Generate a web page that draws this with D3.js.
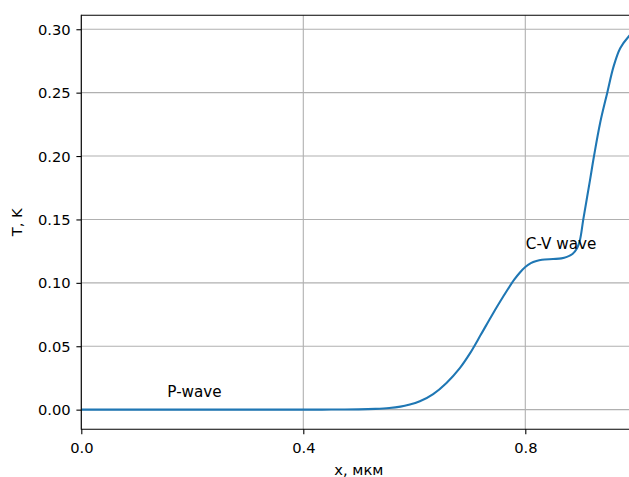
<!DOCTYPE html>
<html>
<head>
<meta charset="utf-8">
<script src="https://cdn.jsdelivr.net/npm/d3@7"></script>
<style>
  html, body { margin: 0; padding: 0; background: #fff; }
  svg { display: block; font-family: "DejaVu Sans", sans-serif; }
</style>
</head>
<body>
<svg id="chart" width="629" height="477"></svg>
<script>
// Temperature profile along x (мкм)
const xValues = [0, 0.1, 0.2, 0.3, 0.4, 0.45, 0.5, 0.53, 0.555, 0.575, 0.59, 0.61, 0.634, 0.658, 0.682, 0.70, 0.72, 0.74, 0.76, 0.78, 0.79, 0.80, 0.81, 0.82, 0.83, 0.85, 0.865, 0.875, 0.885, 0.8935, 0.8986, 0.9045, 0.9166, 0.9238, 0.935, 0.9477, 0.959, 0.971, 0.987, 1.0];
const tValues = [0, 0, 0, 0, 0, 0.00005, 0.0002, 0.0006, 0.0013, 0.0024, 0.0038, 0.0066, 0.0123, 0.0211, 0.0328, 0.0442, 0.0592, 0.0745, 0.089, 0.1025, 0.108, 0.1125, 0.1155, 0.1172, 0.1182, 0.1188, 0.1193, 0.1205, 0.1228, 0.1275, 0.134, 0.15, 0.181, 0.2, 0.2265, 0.25, 0.2705, 0.285, 0.2947, 0.300];

const xTicks = [0, 0.4, 0.8];
const yTicks = [0, 0.05, 0.10, 0.15, 0.20, 0.25, 0.30];

const annotations = [
  { text: "P-wave", x: 0.155, y: 0.0098 },
  { text: "C-V wave", x: 0.801, y: 0.1265 }
];

const xLabel = "x, мкм";
const yLabel = "T, K";

const plotLeft = 81.3, plotRight = 636.3, plotTop = 15.3, plotBottom = 429.3;
const fontSize = 14.7;
const annFontSize = 15.2;

const svg = d3.select("#chart");
const x = d3.scaleLinear().domain([0, 1]).range([plotLeft, plotRight]);
const y = d3.scaleLinear().domain([-0.0155, 0.311]).range([plotBottom, plotTop]);

svg.append("defs").append("clipPath").attr("id", "plot-clip")
  .append("rect").attr("x", plotLeft).attr("y", plotTop)
  .attr("width", plotRight - plotLeft).attr("height", plotBottom - plotTop);

// grid
const grid = svg.append("g").attr("stroke", "#b0b0b0").attr("stroke-width", 1.1);
grid.selectAll(".gx").data(xTicks).join("line")
  .attr("x1", d => x(d)).attr("x2", d => x(d))
  .attr("y1", plotTop).attr("y2", plotBottom);
grid.selectAll(".gy").data(yTicks).join("line")
  .attr("x1", plotLeft).attr("x2", plotRight)
  .attr("y1", d => y(d)).attr("y2", d => y(d));

// curve
const pts = xValues.map((v, i) => [v, tValues[i]]);
svg.append("path")
  .datum(pts)
  .attr("clip-path", "url(#plot-clip)")
  .attr("fill", "none")
  .attr("stroke", "#1f77b4")
  .attr("stroke-width", 2.08)
  .attr("stroke-linecap", "square")
  .attr("d", d3.line().x(d => x(d[0])).y(d => y(d[1])).curve(d3.curveCatmullRom.alpha(0.5)));

// annotations
svg.selectAll(".ann").data(annotations).join("text")
  .attr("x", d => x(d.x)).attr("y", d => y(d.y))
  .attr("font-size", annFontSize).attr("fill", "#000")
  .text(d => d.text);

// axes
const xAxis = svg.append("g").attr("transform", `translate(0,${plotBottom})`)
  .call(d3.axisBottom(x).tickValues(xTicks).tickFormat(d3.format(".1f"))
    .tickSize(4.9).tickPadding(8.2).tickSizeOuter(0));
const yAxis = svg.append("g").attr("transform", `translate(${plotLeft},0)`)
  .call(d3.axisLeft(y).tickValues(yTicks).tickFormat(d3.format(".2f"))
    .tickSize(4.9).tickPadding(5.7).tickSizeOuter(0));
[xAxis, yAxis].forEach(g => {
  g.select(".domain").remove();
  g.selectAll(".tick line").attr("stroke", "#000").attr("stroke-width", 1.1);
  g.selectAll(".tick text").attr("font-size", fontSize).attr("fill", "#000")
    .attr("font-family", "DejaVu Sans, sans-serif");
});
yAxis.selectAll(".tick text").attr("dy", "0.34em");

// spines
const spines = svg.append("g").attr("stroke", "#000").attr("stroke-width", 1.1)
  .attr("fill", "none");
spines.append("line").attr("x1", plotLeft).attr("x2", plotLeft).attr("y1", plotTop - 0.55).attr("y2", plotBottom + 0.55);
spines.append("line").attr("x1", plotLeft).attr("x2", plotRight).attr("y1", plotBottom).attr("y2", plotBottom);
spines.append("line").attr("x1", plotLeft).attr("x2", plotRight).attr("y1", plotTop).attr("y2", plotTop);
spines.append("line").attr("x1", plotRight).attr("x2", plotRight).attr("y1", plotTop).attr("y2", plotBottom);

// axis labels
svg.append("text")
  .attr("x", (plotLeft + plotRight) / 2).attr("y", 474.5)
  .attr("text-anchor", "middle").attr("font-size", fontSize).attr("fill", "#000")
  .text(xLabel);
svg.append("text")
  .attr("transform", `translate(21.7,${(plotTop + plotBottom) / 2}) rotate(-90)`)
  .attr("text-anchor", "middle").attr("font-size", fontSize).attr("fill", "#000")
  .text(yLabel);
</script>
</body>
</html>
